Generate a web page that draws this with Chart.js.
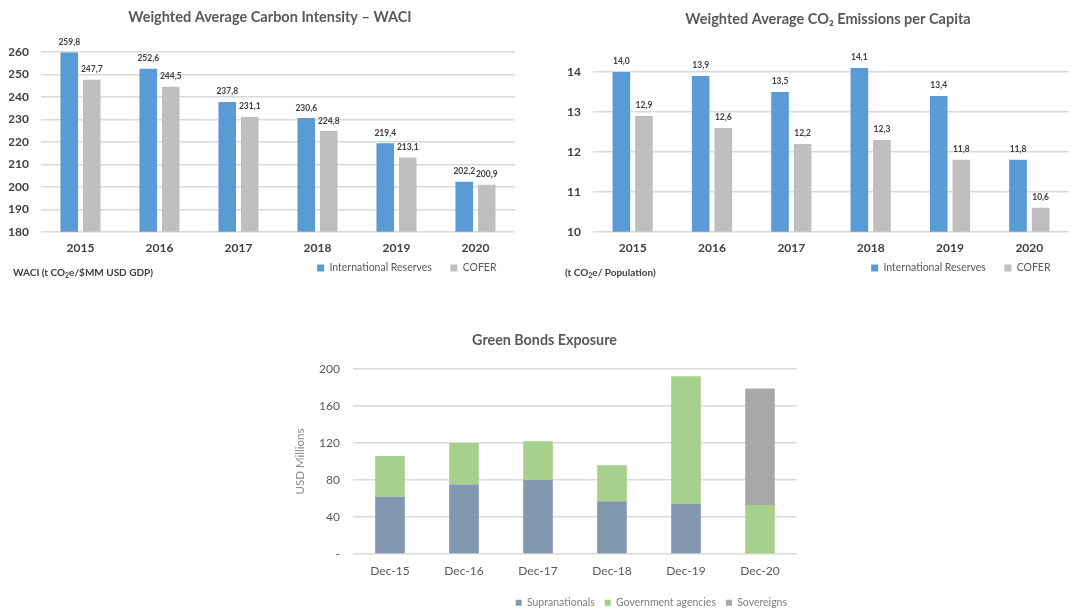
<!DOCTYPE html>
<html>
<head>
<meta charset="utf-8">
<script src="https://cdn.jsdelivr.net/npm/chart.js@4.4.0/dist/chart.umd.min.js"></script>
<style>
  html, body { margin: 0; padding: 0; background: #ffffff; width: 1079px; height: 610px; overflow: hidden; }
  .box { position: absolute; }
  .unit { position: absolute; font-family: Lato, "Open Sans", sans-serif; font-weight: bold; font-size: 10px; color: #404040; white-space: nowrap; }
  .unit sub { font-size: 7px; vertical-align: -2px; line-height: 0; }
</style>
</head>
<body>
<div class="box" style="left:0;top:0;width:540px;height:290px"><canvas id="waci"></canvas></div>
<div class="box" style="left:540px;top:0;width:560px;height:290px"><canvas id="co2"></canvas></div>
<div class="box" style="left:280px;top:320px;width:517px;height:298px"><canvas id="green"></canvas></div>
<div class="unit" style="left:13px;top:266px">WACI (t CO<sub>2</sub>e/$MM USD GDP)</div>
<div class="unit" style="left:565px;top:266px">(t CO<sub>2</sub>e/ Population)</div>
<script>
// Years shown on the two carbon charts
const years = ['2015', '2016', '2017', '2018', '2019', '2020'];

// Weighted Average Carbon Intensity (t CO2e / $MM USD GDP)
const waciReserves = [259.8, 252.6, 237.8, 230.6, 219.4, 202.2];
const waciCofer = [247.7, 244.5, 231.1, 224.8, 213.1, 200.9];
const waciTickValues = [180, 190, 200, 210, 220, 230, 240, 250, 260];

// Weighted Average CO2 emissions per capita (t CO2e / population)
const co2Reserves = [14.0, 13.9, 13.5, 14.1, 13.4, 11.8];
const co2Cofer = [12.9, 12.6, 12.2, 12.3, 11.8, 10.6];
const co2TickValues = [10, 11, 12, 13, 14];

// Green bonds exposure, USD millions
const bondDates = ['Dec-15', 'Dec-16', 'Dec-17', 'Dec-18', 'Dec-19', 'Dec-20'];
const supranationals = [62, 75, 80, 57, 54, 0];
const govAgencies = [44, 45, 42, 39, 138, 53];
const sovereigns = [0, 0, 0, 0, 0, 126];
const bondTickValues = [0, 40, 80, 120, 160, 200];

const FONT = 'Lato, "Open Sans", sans-serif';
const BLUE = '#5B9BD5';
const GREY = '#BFBFBF';
const GRID = '#D9D9D9';
const GAP = '\u2002\u2002'; // extra room after each legend entry

// Writes each bar's value (decimal comma) just above the bar
const valueLabels = {
  id: 'valueLabels',
  afterDatasetsDraw(chart) {
    const ctx = chart.ctx;
    ctx.save();
    ctx.font = 'bold 8.5px ' + FONT;
    ctx.fillStyle = '#404040';
    ctx.textAlign = 'center';
    ctx.textBaseline = 'bottom';
    chart.data.datasets.forEach((ds, i) => {
      chart.getDatasetMeta(i).data.forEach((bar, j) => {
        ctx.fillText(ds.data[j].toFixed(1).replace('.', ','), bar.x, bar.y - 6);
      });
    });
    ctx.restore();
  }
};

function pairedBarChart(id, title, reserves, cofer, tickValues, yMin, yMax, lay) {
  return new Chart(document.getElementById(id), {
    type: 'bar',
    data: {
      labels: years,
      datasets: [
        { label: 'International Reserves', data: reserves, backgroundColor: BLUE, categoryPercentage: 0.57, barPercentage: 0.78 },
        { label: 'COFER', data: cofer, backgroundColor: GREY, categoryPercentage: 0.57, barPercentage: 0.78 }
      ]
    },
    plugins: [valueLabels],
    options: {
      responsive: true,
      maintainAspectRatio: false,
      animation: false,
      layout: { padding: { left: lay.left, right: lay.right, top: 0, bottom: 6.75 } },
      plugins: {
        title: {
          display: true, text: title, color: '#595959',
          font: { family: FONT, size: 14.5, weight: 'bold' },
          padding: { top: lay.titleTop, bottom: lay.titleBottom }
        },
        legend: {
          position: 'bottom', align: 'end', fullSize: false,
          labels: {
            boxWidth: 7, boxHeight: 7, padding: 8, color: '#595959',
            font: { family: FONT, size: 10.5 },
            generateLabels(chart) {
              return Chart.defaults.plugins.legend.labels.generateLabels(chart)
                .map(item => Object.assign(item, { text: item.text + GAP }));
            }
          }
        },
        tooltip: { enabled: false }
      },
      scales: {
        x: {
          grid: { display: false, drawTicks: false },
          border: { display: false },
          ticks: { color: '#404040', font: { family: FONT, size: 12, weight: 'bold' }, padding: 9 },
          afterFit(s) { s.height = 23; }
        },
        y: {
          min: yMin, max: yMax,
          grid: { color: GRID, lineWidth: 1.5, drawTicks: false },
          border: { display: false },
          ticks: { color: '#404040', font: { family: FONT, size: 12, weight: 'bold' }, padding: 12 },
          afterBuildTicks(s) { s.ticks = tickValues.map(v => ({ value: v })); },
          afterFit(s) { s.width = lay.yWidth; }
        },
        // empty spacer on the right so the title sits over the plot
        spacer: {
          type: 'linear', position: 'right', display: true,
          grid: { display: false, drawTicks: false },
          border: { display: false },
          ticks: { display: false },
          afterFit(s) { s.width = lay.spacer; }
        }
      }
    }
  });
}

pairedBarChart('waci', 'Weighted Average Carbon Intensity \u2013 WACI',
  waciReserves, waciCofer, waciTickValues, 180, 260,
  { left: 9, right: 9, yWidth: 32, spacer: 16, titleTop: 9, titleBottom: 25.6 });

pairedBarChart('co2', 'Weighted Average CO\u2082 Emissions per Capita',
  co2Reserves, co2Cofer, co2TickValues, 10, 14.2,
  { left: 28, right: 12, yWidth: 25, spacer: 19, titleTop: 11, titleBottom: 35.6 });

new Chart(document.getElementById('green'), {
  type: 'bar',
  data: {
    labels: bondDates,
    datasets: [
      { label: 'Supranationals', data: supranationals, backgroundColor: '#8497B0' },
      { label: 'Government agencies', data: govAgencies, backgroundColor: '#A6D08C' },
      { label: 'Sovereigns', data: sovereigns, backgroundColor: '#AAA7A7' }
    ]
  },
  options: {
    responsive: true,
    maintainAspectRatio: false,
    animation: false,
    datasets: { bar: { categoryPercentage: 0.4, barPercentage: 1 } },
    layout: { padding: { left: 12, right: 0, top: 0, bottom: 0 } },
    plugins: {
      title: {
        display: true, text: 'Green Bonds Exposure', color: '#595959',
        font: { family: FONT, size: 14.3, weight: 'bold' },
        padding: { top: 11.5, bottom: 20.3 }
      },
      legend: {
        position: 'bottom', align: 'end',
        labels: { boxWidth: 6, boxHeight: 6, padding: 10, color: '#7F7F7F', font: { family: FONT, size: 10.5 } }
      },
      tooltip: { enabled: false }
    },
    scales: {
      x: {
        stacked: true,
        grid: { display: false, drawTicks: false },
        border: { display: false },
        ticks: { color: '#595959', font: { family: FONT, size: 12 }, padding: 10 },
        afterFit(s) { s.height = 33.5; }
      },
      y: {
        stacked: true,
        min: 0, max: 200,
        grid: { color: GRID, lineWidth: 1.5, drawTicks: false },
        border: { display: false },
        title: { display: true, text: 'USD Millions', color: '#8C8C8C', font: { family: FONT, size: 11.5 }, padding: { top: 1, bottom: 0 } },
        ticks: { color: '#595959', font: { family: FONT, size: 12 }, padding: 13, callback: v => (v === 0 ? '-' : v) },
        afterBuildTicks(s) { s.ticks = bondTickValues.map(v => ({ value: v })); },
        afterFit(s) { s.width = 61; }
      }
    }
  }
});
</script>
</body>
</html>
